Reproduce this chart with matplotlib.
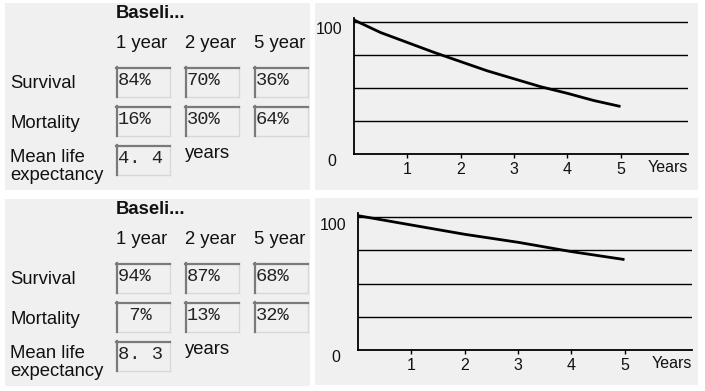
import matplotlib
matplotlib.use("Agg")
import matplotlib.pyplot as plt
from matplotlib.patches import Rectangle
from matplotlib.transforms import offset_copy

# ---- data ----
periods = ["1 year", "2 year", "5 year"]
row_labels = ["Survival", "Mortality"]
survival_top = [84, 70, 36]
mortality_top = [16, 30, 64]
mean_top = 4.4
survival_bot = [94, 87, 68]
mortality_bot = [7, 13, 32]
mean_bot = 8.3

years_top = [0, 0.5, 1, 1.5, 2, 2.5, 3, 3.5, 4, 4.5, 5]
curve_top = [101.5, 92, 84.5, 77, 70, 63, 57, 51, 46, 40.5, 36]
years_bot = [0, 1, 2, 3, 4, 5]
curve_bot = [101, 94, 87, 81, 74, 68]
xticks = [1, 2, 3, 4, 5]

W, H = 705, 391
fig = plt.figure(figsize=(W / 100, H / 100), dpi=100, facecolor="white")
bg = fig.add_axes([0, 0, 1, 1])
bg.set_xlim(0, W)
bg.set_ylim(H, 0)
bg.axis("off")

FONT = "Liberation Sans"
MONO = "Liberation Mono"
PANEL = "#f0f0f0"
FS = 13.3
TXT = "#111111"


def box(x0, y0, x1, y1, txt):
    bg.add_patch(Rectangle((x0, y0), x1 - x0, y1 - y0, facecolor=PANEL,
                           edgecolor="none", zorder=2))
    bg.plot([x0, x1], [y1, y1], color="#d8d8d8", lw=1.0, zorder=3)
    bg.plot([x1, x1], [y0, y1], color="#d8d8d8", lw=1.0, zorder=3)
    bg.plot([x0, x1], [y0 + 0.8, y0 + 0.8], color="#7a7a7a", lw=1.6, zorder=3)
    bg.plot([x0 + 0.8, x0 + 0.8], [y0, y1], color="#7a7a7a", lw=1.6, zorder=3)
    bg.text(x0 + 2, (y0 + y1) / 2 - 1.5, txt, fontsize=13.5, family=MONO,
            ha="left", va="center", color="#222222", zorder=4)


def left_panel(dy, surv, mort, mean):
    bg.add_patch(Rectangle((5, 3 + dy), 305, 187, facecolor=PANEL,
                           edgecolor="none", zorder=1))
    bg.text(116, 13 + dy, "Baseli...", fontsize=FS, family=FONT,
            fontweight="bold", ha="left", va="center", color=TXT)
    cols = [116, 185, 254]
    for cx, p in zip(cols, periods):
        bg.text(cx, 43 + dy, p, fontsize=FS, family=FONT, ha="left",
                va="center", color=TXT)
    bg.text(10, 83 + dy, row_labels[0], fontsize=FS, family=FONT,
            ha="left", va="center", color=TXT)
    bg.text(10, 123 + dy, row_labels[1], fontsize=FS, family=FONT,
            ha="left", va="center", color=TXT)
    bg.text(10, 158 + dy, "Mean life", fontsize=FS, family=FONT,
            ha="left", va="center", color=TXT)
    bg.text(10, 175 + dy, "expectancy", fontsize=FS, family=FONT,
            ha="left", va="center", color=TXT)
    for cx, v in zip(cols, surv):
        box(cx, 67 + dy, cx + 54, 97 + dy, f"{v:>2d}%")
    for cx, v in zip(cols, mort):
        box(cx, 106 + dy, cx + 54, 136 + dy, f"{v:>2d}%")
    box(116, 145 + dy, 170, 175 + dy, f"{mean:.1f}".replace(".", ". "))
    bg.text(185, 154 + dy, "years", fontsize=FS, family=FONT, ha="left",
            va="center", color=TXT)


def right_panel(dy, x0, x_right, y0_px, y100_px, xs, ys):
    bg.add_patch(Rectangle((315, 3 + dy), 383, 187, facecolor=PANEL,
                           edgecolor="none", zorder=1))
    per = (y0_px - y100_px) / 100.0
    ytop = 103
    top_px = y0_px - ytop * per
    xpx = 53.3
    xmax = (x_right - x0) / xpx
    ax = fig.add_axes([x0 / W, 1 - y0_px / H, (x_right - x0) / W,
                       (y0_px - top_px) / H])
    ax.patch.set_alpha(0)
    ax.set_xlim(0, xmax)
    ax.set_ylim(0, ytop)
    for s in ["top", "right"]:
        ax.spines[s].set_visible(False)
    ax.spines["left"].set_linewidth(1.3)
    ax.spines["bottom"].set_linewidth(1.3)
    for g in [25, 50, 75, 100]:
        ax.axhline(g, color="black", lw=1.0)
    ax.plot(xs, ys, color="black", lw=2.0, solid_capstyle="butt")
    ax.set_xticks(xticks)
    ax.set_xticklabels([str(t) for t in xticks], fontsize=11.5, family=FONT,
                       color=TXT)
    ax.tick_params(axis="x", direction="out", length=3, width=1, pad=3)
    ax.set_yticks([])
    ytr = ax.get_yaxis_transform()
    ax.text(0, 100, "100", transform=offset_copy(ytr, fig, x=-12, y=-8,
                                                   units="dots"),
            fontsize=11.5, family=FONT, ha="right", va="center", color=TXT)
    ax.text(0, 0, "0", transform=offset_copy(ytr, fig, x=-18, y=-8,
                                               units="dots"),
            fontsize=11.5, family=FONT, ha="right", va="center", color=TXT)
    xtr = ax.get_xaxis_transform()
    ax.text(5.88, 0, "Years", transform=offset_copy(xtr, fig, y=-14,
                                                     units="dots"),
            fontsize=11.5, family=FONT, ha="center", va="center", color=TXT)
    return ax


left_panel(0, survival_top, mortality_top, mean_top)
left_panel(196, survival_bot, mortality_bot, mean_bot)
right_panel(0, 354, 688, 154, 22, years_top, curve_top)
right_panel(195, 358, 692, 350, 217, years_bot, curve_bot)

fig.savefig("out.png", dpi=100, facecolor="white")
